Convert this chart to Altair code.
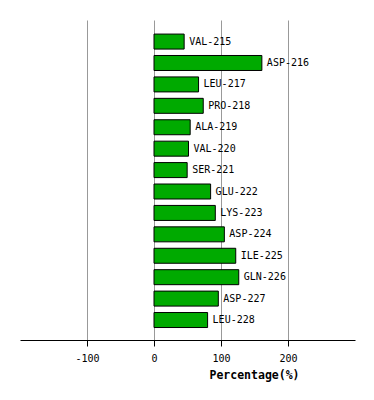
import altair as alt
import pandas as pd

residues = ["VAL-215", "ASP-216", "LEU-217", "PRO-218", "ALA-219", "VAL-220", "SER-221",
            "GLU-222", "LYS-223", "ASP-224", "ILE-225", "GLN-226", "ASP-227", "LEU-228"]
percent = [45, 161, 66.5, 73.5, 54, 51.5, 49.5, 84.5, 91.5, 105, 122, 126.5, 96, 80]
tick_values = [-100, 0, 100, 200]

df = pd.DataFrame({"res": residues, "pct": percent})

mono = "DejaVu Sans Mono"

y_enc = alt.Y("res:N", sort=residues, axis=None,
              scale=alt.Scale(paddingInner=0.3, paddingOuter=0.62, align=0.53))
x_scale = alt.Scale(domain=[-200, 300], nice=False)

bars = alt.Chart(df).mark_bar(color="#00aa00", stroke="black", strokeWidth=1).encode(
    x=alt.X("pct:Q", scale=x_scale,
            axis=alt.Axis(values=tick_values, title="Percentage(%)", grid=True,
                          gridColor="#999999", domainColor="black", tickColor="black",
                          tickSize=6, labelFont=mono, labelFontSize=10, labelColor="black",
                          labelExpr="'' + datum.value",
                          labelPadding=7, titleFont=mono, titleFontSize=11.5,
                          titleFontWeight="bold", titleColor="black", titleX=234,
                          titlePadding=6)),
    x2=alt.datum(0),
    y=y_enc,
)

labels = alt.Chart(df).mark_text(align="left", baseline="middle", dx=5, font=mono,
                                 fontSize=10, color="black").encode(
    x=alt.X("pct:Q", scale=x_scale),
    y=y_enc,
    text="res:N",
)

chart = (bars + labels).properties(
    width=335, height=320,
    autosize=alt.AutoSizeParams(type="none"),
    padding={"left": 20, "top": 20, "right": 19, "bottom": 60},
    background="white",
).configure_view(stroke=None)

chart.save("out.html", embed_options={"renderer": "svg", "actions": False})
